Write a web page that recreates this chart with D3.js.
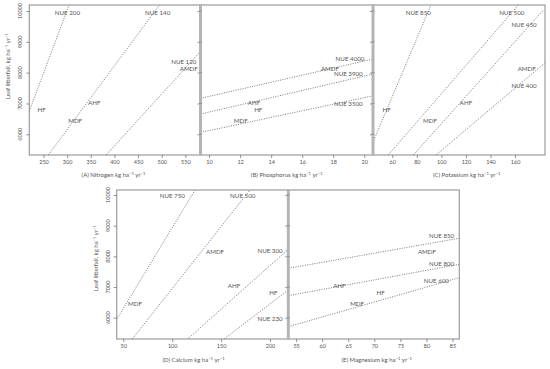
<!DOCTYPE html>
<html><head><meta charset="utf-8">
<script src="https://cdn.jsdelivr.net/npm/d3@7"></script>
<style>
body{margin:0;background:#fff}
text{font-family:Lato,"Open Sans",sans-serif;fill:#555}
</style>
</head><body>
<svg id="c" width="550" height="369"></svg>
<script>
// ---------- DATA ----------
const siteNames = ["HF", "AHF", "MDF", "AMDF"];
const siteLitterfall = [6818, 7037, 6456, 8145];

const nitrogenSite   = [246.3, 357.2, 316.9, 557.2];
const phosphorusSite = [13.17, 12.90, 12.04, 17.79];
const potassiumSite  = [55.4, 120.1, 90.7, 169.5];
const calciumSite    = [203.4, 163.2, 62.0, 143.8];
const magnesiumSite  = [71.2, 63.3, 66.7, 80.1];

// NUE isolines: [x1, y1, x2, y2] in data units, label and label anchor [x, y]
const nueNames_N = ["NUE 200", "NUE 140", "NUE 120"];
const nueLines_N = [[220, 6753, 304, 10195], [260.2, 5328, 495.3, 10195], [382.4, 5328, 581.5, 8679]];
const nueLabel_N = [[300.6, 9945], [491.5, 9945], [546.6, 8356]];

const nueNames_P = ["NUE 4000", "NUE 3900", "NUE 3500"];
const nueLines_P = [[9.45, 7166, 20.56, 8442], [9.45, 6656, 20.56, 7955], [9.45, 6062, 20.56, 7250]];
const nueLabel_P = [[19.08, 8454], [18.97, 7980], [18.97, 6994]];

const nueNames_K = ["NUE 850", "NUE 500", "NUE 450", "NUE 400"];
const nueLines_K = [[44.3, 5740, 91.5, 10195], [56.7, 5328, 162.7, 10195], [77.1, 5328, 183.1, 10032], [95.6, 5328, 183.9, 8302]];
const nueLabel_K = [[81.2, 9945], [157.3, 9945], [167.3, 9569], [167.3, 7568]];

const nueNames_Ca = ["NUE 750", "NUE 500", "NUE 300", "NUE 230"];
const nueLines_Ca = [[43.9, 5980, 123.3, 10163], [59.2, 5306, 179.5, 10163], [115.8, 5306, 218.7, 8230], [153, 5306, 218.7, 6904]];
const nueLabel_Ca = [[100.1, 9977], [172.1, 9977], [200, 8175], [200, 5981]];

const nueNames_Mg = ["NUE 850", "NUE 800", "NUE 600"];
const nueLines_Mg = [[53.5, 7611, 86.3, 8589], [53.5, 6718, 86.3, 7741], [53.5, 5707, 86.3, 7304]];
const nueLabel_Mg = [[82.9, 8673], [82.9, 7774], [81.9, 7197]];

const yTicks = [6000, 7000, 8000, 9000, 10000];
const xTicks_N = [250, 300, 350, 400, 450, 500, 550];
const xTicks_P = [10, 12, 14, 16, 18, 20];
const xTicks_K = [60, 80, 100, 120, 140, 160];
const xTicks_Ca = [50, 100, 150, 200];
const xTicks_Mg = [55, 60, 65, 70, 75, 80, 85];

const panelTitles = ["(A) Nitrogen", "(B) Phosphorus", "(C) Potassium", "(D) Calcium", "(E) Magnesium"];
const yTitle = "Leaf litterfall,";

// ---------- LAYOUT ----------
const panels = [
  {x:[29.3,200.5], y:[155,5], xd:[220,582], yd:[5328,10195], site:nitrogenSite, names:nueNames_N, lines:nueLines_N, lab:nueLabel_N, ticks:xTicks_N, title:panelTitles[0], tx:113.5, ty:176.5, yl:true, ylx:20, ytx:10, yty:66},
  {x:[200.5,373], y:[155,5], xd:[9.45,20.56], yd:[5328,10195], site:phosphorusSite, names:nueNames_P, lines:nueLines_P, lab:nueLabel_P, ticks:xTicks_P, title:panelTitles[1], tx:286.7, ty:176.5},
  {x:[373,545], y:[155,5], xd:[44.3,184.4], yd:[5328,10195], site:potassiumSite, names:nueNames_K, lines:nueLines_K, lab:nueLabel_K, ticks:xTicks_K, title:panelTitles[2], tx:466.7, ty:176.5},
  {x:[116.7,288.3], y:[339,190], xd:[43.25,218.7], yd:[5306,10163], site:calciumSite, names:nueNames_Ca, lines:nueLines_Ca, lab:nueLabel_Ca, ticks:xTicks_Ca, title:panelTitles[3], tx:193.5, ty:362, yl:true, ylx:107.5, ytx:97.5, yty:258},
  {x:[288.3,459.3], y:[339,190], xd:[53.5,86.3], yd:[5306,10163], site:magnesiumSite, names:nueNames_Mg, lines:nueLines_Mg, lab:nueLabel_Mg, ticks:xTicks_Mg, title:panelTitles[4], tx:376.7, ty:362}
];

const svg = d3.select("#c");
const defs = svg.append("defs");
const frameCol = "#9c9c9c", lineCol = "#555", textCol = "#555";

function unitText(sel, main, fs) {
  sel.append("tspan").text(main + " kg ha");
  sel.append("tspan").attr("dy", -2).attr("font-size", fs * 0.7).text("−1");
  sel.append("tspan").attr("dy", 2).text(" yr");
  sel.append("tspan").attr("dy", -2).attr("font-size", fs * 0.7).text("−1");
}

panels.forEach((p, i) => {
  const xs = d3.scaleLinear().domain(p.xd).range(p.x);
  const ys = d3.scaleLinear().domain(p.yd).range(p.y);
  const g = svg.append("g");
  const cid = "clip" + i;
  defs.append("clipPath").attr("id", cid).append("rect")
    .attr("x", p.x[0]).attr("y", p.y[1]).attr("width", p.x[1] - p.x[0]).attr("height", p.y[0] - p.y[1]);

  g.append("rect").attr("x", p.x[0]).attr("y", p.y[1]).attr("width", p.x[1] - p.x[0]).attr("height", p.y[0] - p.y[1])
    .attr("fill", "none").attr("stroke", frameCol).attr("stroke-width", 1.2);

  g.append("g").attr("clip-path", `url(#${cid})`).selectAll("line").data(p.lines).join("line")
    .attr("x1", d => xs(d[0])).attr("y1", d => ys(d[1])).attr("x2", d => xs(d[2])).attr("y2", d => ys(d[3]))
    .attr("stroke", lineCol).attr("stroke-width", 0.8).attr("stroke-dasharray", "1,1.4");

  g.selectAll("text.nue").data(p.names).join("text").attr("class", "nue")
    .attr("x", (d, j) => xs(p.lab[j][0])).attr("y", (d, j) => ys(p.lab[j][1]))
    .attr("text-anchor", "middle").attr("dominant-baseline", "central")
    .attr("font-size", 6.2).attr("fill", textCol).text(d => d);

  g.selectAll("text.site").data(siteNames).join("text").attr("class", "site")
    .attr("x", (d, j) => xs(p.site[j])).attr("y", (d, j) => ys(siteLitterfall[j]))
    .attr("text-anchor", "middle").attr("dominant-baseline", "central")
    .attr("font-size", 6.2).attr("fill", textCol).text(d => d);

  const xa = g.append("g").attr("transform", `translate(0,${p.y[0]})`)
    .call(d3.axisBottom(xs).tickValues(p.ticks).tickSize(3).tickPadding(2).tickFormat(d3.format("d")));
  xa.select(".domain").remove();
  xa.selectAll("line").attr("stroke", "#777").attr("stroke-width", 0.8);
  xa.selectAll("text").attr("font-size", 5.5).attr("fill", textCol).attr("font-family", "Lato");

  const ya = g.append("g").attr("transform", `translate(${p.x[0]},0)`)
    .call(d3.axisLeft(ys).tickValues(yTicks).tickSize(3).tickFormat(""));
  ya.select(".domain").remove();
  ya.selectAll("line").attr("stroke", "#777").attr("stroke-width", 0.8);

  if (p.yl) {
    g.selectAll("text.yt").data(yTicks).join("text").attr("class", "yt")
      .attr("transform", d => `translate(${p.ylx},${ys(d)}) rotate(-90)`)
      .attr("text-anchor", "middle").attr("dominant-baseline", "central")
      .attr("font-size", 5.5).attr("fill", textCol).text(d => d);
    const yt = g.append("text").attr("transform", `translate(${p.ytx},${p.yty}) rotate(-90)`)
      .attr("text-anchor", "middle").attr("font-size", 6).attr("fill", textCol);
    unitText(yt, yTitle, 6);
  }

  const t = g.append("text").attr("x", p.tx).attr("y", p.ty).attr("text-anchor", "middle").attr("font-size", 6).attr("fill", textCol);
  unitText(t, p.title, 6);
});

// thick shared borders between adjacent panels
const joins = [[panels[0].x[1], panels[0].y], [panels[1].x[1], panels[1].y], [panels[3].x[1], panels[3].y]];
svg.selectAll("line.join").data(joins).join("line").attr("class", "join")
  .attr("x1", d => d[0]).attr("x2", d => d[0]).attr("y1", d => d[1][1] - 1).attr("y2", d => d[1][0])
  .attr("stroke", "#b4b4b4").attr("stroke-width", 3);
panels.forEach(p => {
  if (p.yl) return;
  const ys = d3.scaleLinear().domain(p.yd).range(p.y);
  svg.append("g").selectAll("line").data(yTicks).join("line")
    .attr("x1", p.x[0] - 1.5).attr("x2", p.x[0] + 1.5).attr("y1", d => ys(d)).attr("y2", d => ys(d))
    .attr("stroke", "#888").attr("stroke-width", 0.8);
});
</script>
</body></html>
